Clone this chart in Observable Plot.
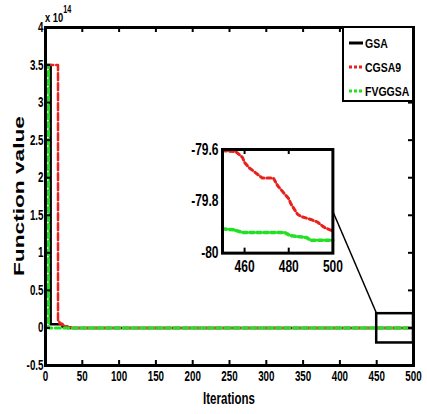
<!DOCTYPE html>
<html><head><meta charset="utf-8">
<script src="https://cdn.jsdelivr.net/npm/d3@7"></script>
<script src="https://cdn.jsdelivr.net/npm/@observablehq/plot@0.6"></script>
<style>
body{margin:0;background:#fff;}
#wrap{position:relative;width:427px;height:414px;overflow:hidden;background:#fff;}
#wrap svg{position:absolute;left:0;top:0;}
</style></head><body><div id="wrap"></div>
<script>
// ---- data ----
const seriesNames = ["GSA", "CGSA9", "FVGGSA"];
const seriesColors = ["#000000", "#e8211d", "#22e022"];

const gsaIter = [1, 7, 23, 30, 500];
const gsaVal  = [3.5, 0.05, 0.015, 0, 0];
const cgsaIter = [1, 17, 19, 22, 25, 30, 35, 500];
const cgsaVal  = [3.5, 0.08, 0.06, 0.04, 0.02, 0.01, 0, 0];
const fvgIter = [1, 4, 500];
const fvgVal  = [3.5, 0, 0];

const xTicks = [0, 50, 100, 150, 200, 250, 300, 350, 400, 450, 500];
const yTicks = [-0.5, 0, 0.5, 1, 1.5, 2, 2.5, 3, 3.5, 4];

const insetCgsaIter = [450, 456, 459, 460, 462, 465, 468, 473, 475, 478, 480, 481, 484, 486, 490, 493, 496, 500];
const insetCgsaVal  = [-79.605, -79.608, -79.63, -79.65, -79.67, -79.69, -79.71, -79.71, -79.74, -79.77, -79.79, -79.81, -79.85, -79.86, -79.87, -79.88, -79.90, -79.915];
const insetFvgIter = [450, 455, 459, 478, 481, 488, 490, 500];
const insetFvgVal  = [-79.906, -79.91, -79.92, -79.92, -79.933, -79.94, -79.95, -79.95];
const insetXTicks = [460, 480, 500];
const insetYTicks = [-80, -79.8, -79.6];

const zoomBox = [{x1: 450, x2: 500, y1: -0.2, y2: 0.19}];
const insetExtent = {x1: 240, x2: 390, y1: 0.99, y2: 2.37, linkY: 1.56};

// ---- helpers ----
const rows = (xs, ys) => xs.map((x, i) => ({x, y: ys[i]}));
const FONT = "'Liberation Sans', Arial, sans-serif";

// compress text horizontally to mimic a narrow font
function narrow(root, s) {
  d3.select(root).selectAll("text").each(function () {
    const t = d3.select(this);
    if (t.attr("data-n")) return;
    t.attr("data-n", 1);
    const tr = t.attr("transform");
    if (tr && tr.includes("translate") && !tr.includes("rotate")) {
      t.attr("transform", tr + ` scale(${s},1)`);
    } else if (!tr) {
      const x = +(t.attr("x") || 0), y = +(t.attr("y") || 0);
      t.attr("x", null).attr("y", null).attr("transform", `translate(${x},${y}) scale(${s},1)`);
    }
  });
}

const W = 427, H = 414, mL = 45, mR = 14, mT = 27, mB = 49;
const frameW = W - mL - mR, frameH = H - mT - mB;
const tick = 5;

const main = Plot.plot({
  width: W, height: H,
  marginLeft: mL, marginRight: mR, marginTop: mT, marginBottom: mB,
  x: {domain: [0, 500]},
  y: {domain: [-0.5, 4]},
  style: {fontFamily: FONT, fontSize: "14px", fontWeight: "bold", background: "transparent", overflow: "visible", color: "#000"},
  marks: [
    Plot.line(rows(gsaIter, gsaVal), {x: "x", y: "y", curve: "step-after", stroke: seriesColors[0], strokeWidth: 2.5}),
    Plot.line(rows(cgsaIter, cgsaVal), {x: "x", y: "y", curve: "step-after", stroke: seriesColors[1], strokeWidth: 2.5, strokeDasharray: "7,3"}),
    Plot.line(rows(fvgIter, fvgVal), {x: "x", y: "y", curve: "step-after", stroke: seriesColors[2], strokeWidth: 3, strokeDasharray: "5,3.5"}),
    Plot.rect(zoomBox, {x1: "x1", x2: "x2", y1: "y1", y2: "y2", fill: "none", stroke: "#000", strokeWidth: 2.5}),
    Plot.link([insetExtent], {x1: d => d.x2, y1: d => d.linkY, x2: () => zoomBox[0].x1, y2: () => zoomBox[0].y2, stroke: "#000", strokeWidth: 1.5}),
    Plot.ruleX(xTicks.slice(1, -1), {insetBottom: frameH - tick, stroke: "#000", strokeWidth: 2}),
    Plot.ruleX(xTicks.slice(1, -1), {insetTop: frameH - tick, stroke: "#000", strokeWidth: 2}),
    Plot.ruleY(yTicks.slice(1, -1), {insetRight: frameW - tick, stroke: "#000", strokeWidth: 2}),
    Plot.ruleY(yTicks.slice(1, -1), {insetLeft: frameW - tick, stroke: "#000", strokeWidth: 2}),
    Plot.frame({stroke: "#000", strokeWidth: 3}),
    Plot.axisX({ticks: xTicks, tickSize: 0, tickPadding: 6, tickFormat: d => String(d), label: null}),
    Plot.axisY({ticks: yTicks, tickSize: 0, tickPadding: 2, tickFormat: d => String(d), label: null})
  ]
});
document.getElementById("wrap").appendChild(main);
narrow(main, 0.7);

const svg = d3.select(main);
// axis labels
const itx = svg.append("text").attr("x", (mL + W - mR) / 2).attr("y", 404).attr("text-anchor", "middle")
  .style("font-family", FONT).style("font-size", "16px").style("font-weight", "bold").text("Iterations");
svg.append("text").attr("transform", `translate(24,${mT + frameH / 2}) rotate(-90)`).attr("text-anchor", "middle")
  .attr("textLength", 160).attr("lengthAdjust", "spacingAndGlyphs")
  .style("font-family", FONT).style("font-size", "14px").style("font-weight", "bold").text("Function value");
const exp = svg.append("text").attr("x", 45).attr("y", 22).attr("text-anchor", "start")
  .style("font-family", FONT).style("font-weight", "bold").style("font-size", "13px");
exp.append("tspan").text("x 10");
exp.append("tspan").attr("dy", -9).style("font-size", "10px").text("14");
narrow(itx.node().parentNode, 0.72);

// legend
const lg = svg.append("g");
lg.append("rect").attr("x", 343).attr("y", mT).attr("width", W - mR - 343).attr("height", 101 - mT)
  .attr("fill", "#fff").attr("stroke", "#000").attr("stroke-width", 2);
const legendY = [43, 67, 91];
const legendDash = [null, "3,2", "3,2"];
seriesNames.forEach((n, i) => {
  lg.append("line").attr("x1", 349).attr("x2", 363).attr("y1", legendY[i]).attr("y2", legendY[i])
    .attr("stroke", seriesColors[i]).attr("stroke-width", 3).attr("stroke-dasharray", legendDash[i]);
  lg.append("text").attr("x", 365).attr("y", legendY[i] + 4.5).attr("text-anchor", "start")
    .style("font-family", FONT).style("font-size", "12.5px").style("font-weight", "bold").text(n);
  narrow(lg.node(), 0.84);
});

// inset
const sx = main.scale("x"), sy = main.scale("y");
const iL = sx.apply(insetExtent.x1), iR = sx.apply(insetExtent.x2);
const iT = sy.apply(insetExtent.y2), iB = sy.apply(insetExtent.y1);
const imL = 40, imR = 6, imT = 10, imB = 30;
const ifW = iR - iL, ifH = iB - iT;
const inset = Plot.plot({
  width: imL + ifW + imR, height: imT + ifH + imB,
  marginLeft: imL, marginRight: imR, marginTop: imT, marginBottom: imB,
  x: {domain: [450, 500]},
  y: {domain: [-80, -79.6]},
  style: {fontFamily: FONT, fontSize: "16px", fontWeight: "bold", background: "transparent", overflow: "visible", color: "#000"},
  marks: [
    Plot.line(rows(insetCgsaIter, insetCgsaVal), {x: "x", y: "y", stroke: seriesColors[1], strokeWidth: 3, strokeDasharray: "4,3"}),
    Plot.line(rows(insetFvgIter, insetFvgVal), {x: "x", y: "y", stroke: seriesColors[2], strokeWidth: 3.5, strokeDasharray: "4,3"}),
    Plot.ruleX(insetXTicks.slice(0, -1), {insetBottom: ifH - tick, stroke: "#000", strokeWidth: 2}),
    Plot.ruleX(insetXTicks.slice(0, -1), {insetTop: ifH - tick, stroke: "#000", strokeWidth: 2}),
    Plot.frame({stroke: "#000", strokeWidth: 3}),
    Plot.axisX({ticks: insetXTicks, tickSize: 0, tickPadding: 7, tickFormat: d => String(d), label: null}),
    Plot.axisY({ticks: insetYTicks, tickSize: 0, tickPadding: 4, tickFormat: d => String(d), label: null})
  ]
});
inset.style.left = (iL - imL) + "px";
inset.style.top = (iT - imT) + "px";
document.getElementById("wrap").appendChild(inset);
narrow(inset, 0.75);
</script>
</body></html>
